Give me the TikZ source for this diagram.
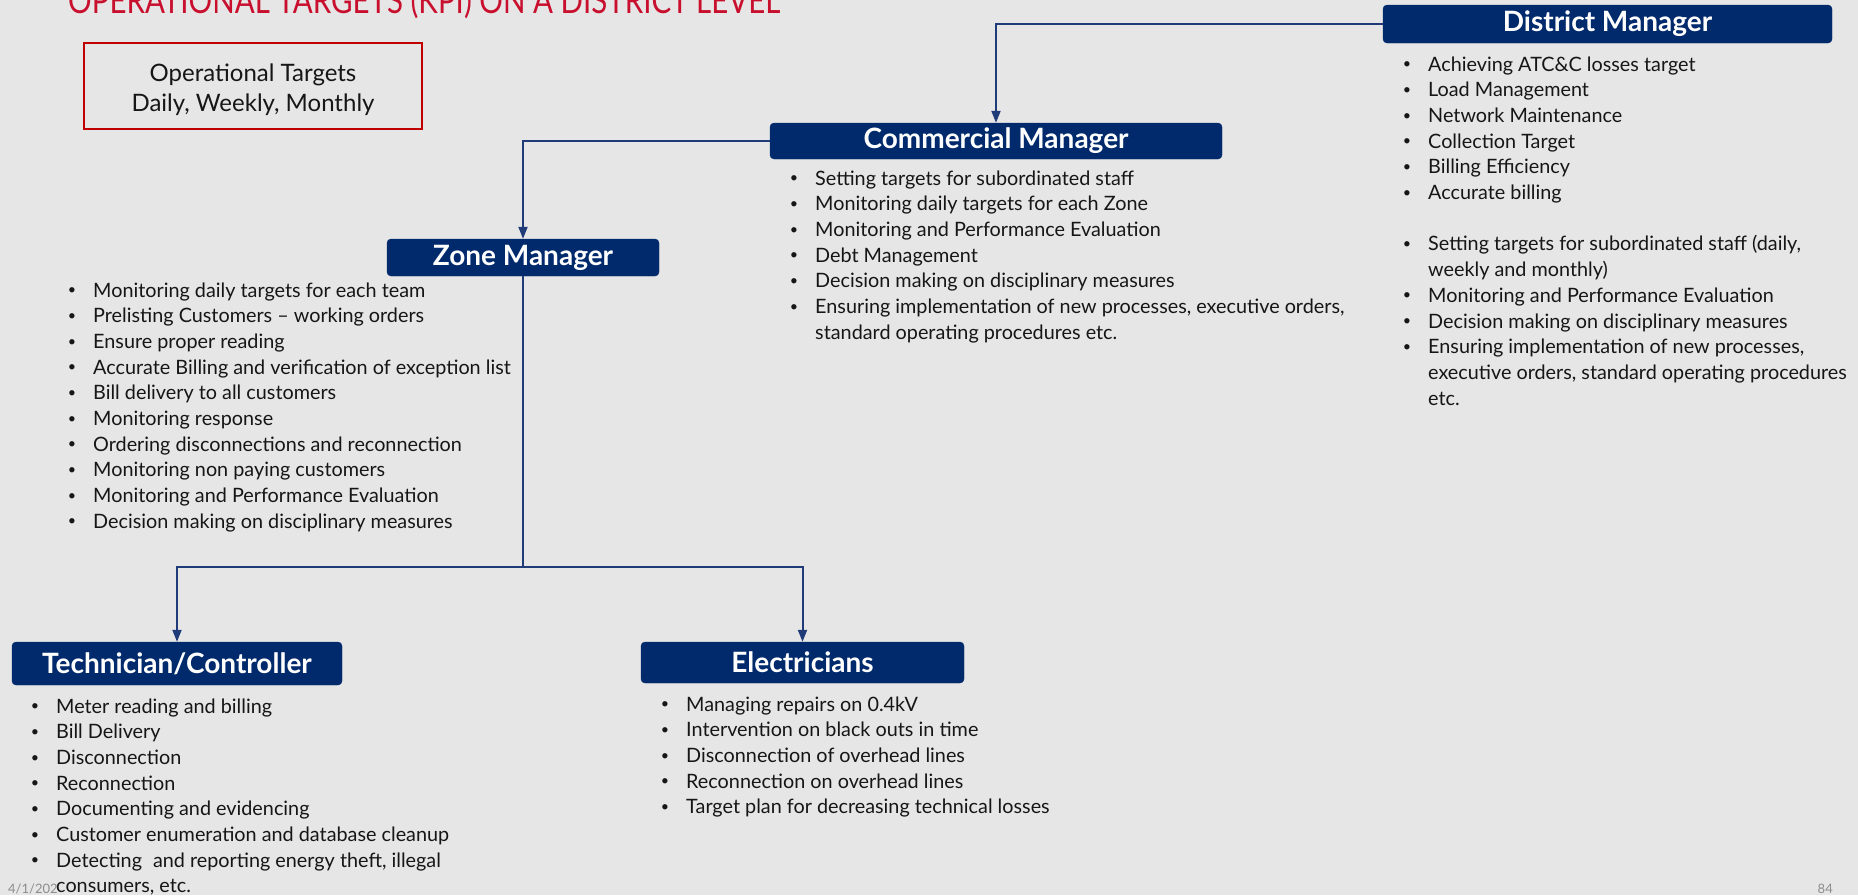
\documentclass[tikz,border=0pt]{standalone}
\usepackage{fontspec}
\usepackage{graphicx}
\setmainfont{Lato}
\usetikzlibrary{arrows.meta}

\definecolor{slidebg}{HTML}{E7E6E6}
\definecolor{navy}{HTML}{002A6C}
\definecolor{linkblue}{HTML}{1F3C78}
\definecolor{titlered}{HTML}{C8102E}
\definecolor{boxred}{HTML}{C00000}
\definecolor{footgray}{HTML}{8C8C8C}
\definecolor{bodytext}{HTML}{161616}

% small bullet hung to the left of each item
\newcommand{\itm}{\llap{\raisebox{0.12em}{\scalebox{0.72}{\textbullet}}\hspace{17pt}}}
\newenvironment{dutylist}{\begin{tabular}[t]{@{}l@{}}}{\end{tabular}}

\tikzset{
  rolebox/.style={fill=navy, draw=navy, rounded corners=4pt, text=white,
    font=\fontsize{28}{32}\selectfont\bfseries, inner sep=0pt},
  duties/.style={anchor=base west, inner sep=0pt, text=bodytext,
    font=\fontsize{19.8}{25.7}\selectfont},
  link/.style={draw=linkblue, line width=2pt},
  arrowlink/.style={link, -{Triangle[length=12pt,width=9pt]}},
  footer/.style={text=footgray, inner sep=0pt, font=\fontsize{13}{15}\selectfont},
}

\begin{document}
\begin{tikzpicture}[x=1pt,y=-1pt]
\useasboundingbox (0,0) rectangle (1858,895);
\fill[slidebg] (0,0) rectangle (1858,895);
\clip (0,0) rectangle (1858,895);

% heading
\node[anchor=base west, text=titlered, inner sep=0pt] (title) at (68,13)
  {\fontsize{36}{40}\selectfont\resizebox{712pt}{\height}{OPERATIONAL TARGETS (KPI) ON A DISTRICT LEVEL}};

% legend box and its text
\node[draw=boxred, line width=1.5pt, minimum width=338pt, minimum height=86pt,
  inner sep=0pt] (legend) at (253,86) {};
\node[align=center, inner sep=0pt, text=bodytext, font=\fontsize{24}{30}\selectfont]
  (legendtext) at (253,89.5) {Operational Targets\\Daily, Weekly, Monthly};

% role boxes
\node[rolebox, minimum width=449pt, minimum height=38pt] (dm) at (1607.5,24) {District Manager};
\node[rolebox, minimum width=452pt, minimum height=36pt] (cm) at (996,141) {Commercial Manager};
\node[rolebox, minimum width=272pt, minimum height=37pt] (zm) at (523,257.5) {Zone Manager};
\node[rolebox, minimum width=330pt, minimum height=43pt] (tc) at (177,663.5) {Technician/Controller};
\node[rolebox, minimum width=323pt, minimum height=41pt] (el) at (802.5,662.5) {Electricians};

% reporting lines
\coordinate (split) at (523,567);
\draw[arrowlink] (dm.west) -| (cm.north);
\draw[arrowlink] (cm.west) -| (zm.north);
\draw[link] (zm.south) -- (split);
\draw[arrowlink] (split) -| (tc.north);
\draw[arrowlink] (split) -| (el.north);

% duties
\node[duties] (dmlist) at (1428,71) {\begin{dutylist}
\itm Achieving ATC\&C losses target\\
\itm Load Management\\
\itm Network Maintenance\\
\itm Collection Target\\
\itm Billing Efficiency\\
\itm Accurate billing\\
\\
\itm Setting targets for subordinated staff (daily,\\
weekly and monthly)\\
\itm Monitoring and Performance Evaluation\\
\itm Decision making on disciplinary measures\\
\itm Ensuring implementation of new processes,\\
executive orders, standard operating procedures\\
etc.
\end{dutylist}};

\node[duties] (cmlist) at (815,185) {\begin{dutylist}
\itm Setting targets for subordinated staff\\
\itm Monitoring daily targets for each Zone\\
\itm Monitoring and Performance Evaluation\\
\itm Debt Management\\
\itm Decision making on disciplinary measures\\
\itm Ensuring implementation of new processes, executive orders,\\
standard operating procedures etc.
\end{dutylist}};

\node[duties] (zmlist) at (93,297) {\begin{dutylist}
\itm Monitoring daily targets for each team\\
\itm Prelisting Customers \textendash{} working orders\\
\itm Ensure proper reading\\
\itm Accurate Billing and verification of exception list\\
\itm Bill delivery to all customers\\
\itm Monitoring response\\
\itm Ordering disconnections and reconnection\\
\itm Monitoring non paying customers\\
\itm Monitoring and Performance Evaluation\\
\itm Decision making on disciplinary measures
\end{dutylist}};

\node[duties] (tclist) at (56,713) {\begin{dutylist}
\itm Meter reading and billing\\
\itm Bill Delivery\\
\itm Disconnection\\
\itm Reconnection\\
\itm Documenting and evidencing\\
\itm Customer enumeration and database cleanup\\
\itm Detecting\hspace{0.3em} and reporting energy theft, illegal\\
consumers, etc.
\end{dutylist}};

\node[duties] (ellist) at (686,711) {\begin{dutylist}
\itm Managing repairs on 0.4kV\\
\itm Intervention on black outs in time\\
\itm Disconnection of overhead lines\\
\itm Reconnection on overhead lines\\
\itm Target plan for decreasing technical losses
\end{dutylist}};

% footer
\node[footer, anchor=base west] (date) at (8,893) {4/1/202};
\node[footer, anchor=base east] (page) at (1833,893) {84};
\end{tikzpicture}
\end{document}
